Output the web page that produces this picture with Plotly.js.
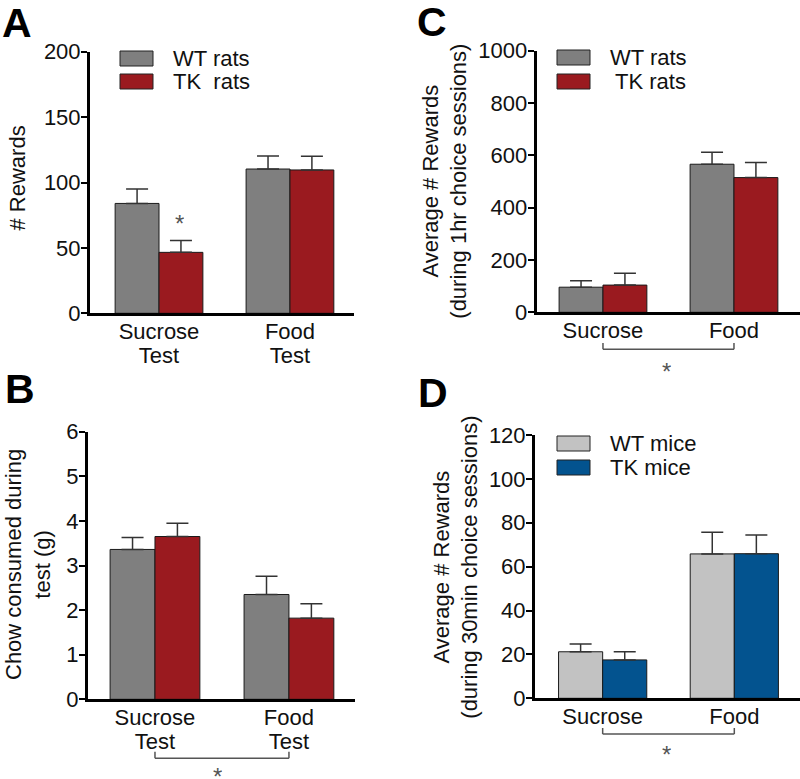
<!DOCTYPE html>
<html><head><meta charset="utf-8">
<script src="https://cdn.plot.ly/plotly-3.0.1.min.js"></script>
<style>html,body{margin:0;padding:0;background:#fff;}#chart{width:800px;height:779px;}</style>
</head><body><div id="chart"></div>
<script>
// ---------- data ----------
const catsTest = ["Sucrose<br>Test", "Food<br>Test"];
const catsShort = ["Sucrose", "Food"];

// Panel A: # Rewards
const aWT = [84, 110.3];
const aWTErr = [11, 10];
const aTK = [46.6, 109.6];
const aTKErr = [9, 10.4];

// Panel B: Chow consumed during test (g)
const bWT = [3.36, 2.35];
const bWTErr = [0.27, 0.41];
const bTK = [3.65, 1.82];
const bTKErr = [0.30, 0.32];

// Panel C: Average # Rewards (1hr)
const cWT = [96, 566];
const cWTErr = [25, 46];
const cTK = [104, 515];
const cTKErr = [45, 58];

// Panel D: Average # Rewards (30min)
const dWT = [21.2, 65.8];
const dWTErr = [3.5, 9.9];
const dTK = [17.5, 65.9];
const dTKErr = [3.7, 8.5];

const ratNames = ["WT rats", "TK\u00a0 rats"];
const ratNamesC = ["WT rats", "TK rats"];
const miceNames = ["WT mice", "TK mice"];
const panelLetters = ["A", "B", "C", "D"];

// ---------- styles ----------
const W = 800, H = 779;
const FONT = "Liberation Sans, Arial, Helvetica, sans-serif";
const GRAY = "#7f7f7f", RED = "#9a1a1f", LGRAY = "#c2c2c2", BLUE = "#03538f";
const px = v => v / W;
const py = v => 1 - v / H;

function bar(x, y, err, color, xa, ya, name) {
  return {
    type: "bar", x: x, y: y, name: name, xaxis: xa, yaxis: ya,
    marker: {color: color, line: {color: "#1a1a1a", width: 1}},
    error_y: {type: "data", array: err, arrayminus: err.map(() => 0), symmetric: false,
              color: "#333", thickness: 1.5, width: 11},
    showlegend: false, hoverinfo: "skip"
  };
}

const data = [
  bar(catsTest, aWT, aWTErr, GRAY, "x", "y", ratNames[0]),
  bar(catsTest, aTK, aTKErr, RED, "x", "y", ratNames[1]),
  bar(catsTest, bWT, bWTErr, GRAY, "x2", "y2", ratNames[0]),
  bar(catsTest, bTK, bTKErr, RED, "x2", "y2", ratNames[1]),
  bar(catsShort, cWT, cWTErr, GRAY, "x3", "y3", ratNamesC[0]),
  bar(catsShort, cTK, cTKErr, RED, "x3", "y3", ratNamesC[1]),
  bar(catsShort, dWT, dWTErr, LGRAY, "x4", "y4", miceNames[0]),
  bar(catsShort, dTK, dTKErr, BLUE, "x4", "y4", miceNames[1])
];

function xax(domain, range, anchor) {
  return {domain: domain, range: range, anchor: anchor, type: "category",
    showline: true, linewidth: 3, linecolor: "#000", ticks: "", showgrid: false,
    zeroline: false, ticklabelstandoff: -4,
    tickfont: {family: FONT, size: 22, color: "#111"}, fixedrange: true};
}
function yax(domain, range, dtick, anchor) {
  return {domain: domain, range: range, dtick: dtick, anchor: anchor,
    showline: true, linewidth: 3, linecolor: "#000", ticks: "outside", ticklen: 6,
    tickwidth: 2, tickcolor: "#000", showgrid: false, zeroline: false,
    ticklabelstandoff: -4,
    tickfont: {family: FONT, size: 22, color: "#111"}, fixedrange: true};
}

const annotations = [];
function ann(text, x, y, opts) {
  annotations.push(Object.assign({text: text, x: px(x), y: py(y), xref: "paper", yref: "paper",
    showarrow: false, xanchor: "center", yanchor: "middle",
    font: {family: FONT, size: 22, color: "#111"}}, opts || {}));
}
// panel letters
const letterPos = [[0, 22.5], [3, 389], [415, 22], [416, 393]];
panelLetters.forEach((L, i) => ann(L, letterPos[i][0], letterPos[i][1],
  {xanchor: "left", font: {family: FONT, size: 41, color: "#000", weight: "bold"}}));
// y titles
ann("# Rewards", 17, 178.5, {textangle: -90});
ann("Chow consumed during<br>test (g)", 28, 565, {textangle: -90});
ann("Average # Rewards<br>(during 1hr choice sessions)", 444.7, 181, {textangle: -90});
ann("Average # Rewards<br>(during 30min choice sessions)", 455.7, 567, {textangle: -90});
// asterisks (box trimmed to the glyph so it stays inside the page)
const starOpts = {font: {family: FONT, size: 24, color: "#555"}, height: 14, valign: "top",
                  borderpad: 0};
ann("*", 179, 217, starOpts);
ann("*", 666.7, 365, starOpts);
ann("*", 217, 770, starOpts);
ann("*", 666.7, 748, starOpts);

// manual legends
const shapes = [];
function legendItem(name, color, bx0, by0, tx) {
  shapes.push({type: "rect", xref: "paper", yref: "paper",
    x0: px(bx0), x1: px(bx0 + 33), y0: py(by0), y1: py(by0 + 15),
    fillcolor: color, line: {color: "#222", width: 1}});
  ann(name, tx, by0 + 7.5, {xanchor: "left"});
}
legendItem(ratNames[0], GRAY, 120, 51, 171);
legendItem(ratNames[1], RED, 120, 74, 171);
legendItem(ratNamesC[0], GRAY, 557, 50, 608);
legendItem(ratNamesC[1], RED, 557, 74, 613);
legendItem(miceNames[0], LGRAY, 557, 436, 608);
legendItem(miceNames[1], BLUE, 557, 460, 608);

// significance brackets
function bracket(xref, yLine, yTop) {
  const st = {color: "#555", width: 1.5};
  shapes.push({type: "line", xref: xref, yref: "paper", x0: 0, x1: 1, y0: py(yLine), y1: py(yLine), line: st});
  shapes.push({type: "line", xref: xref, yref: "paper", x0: 0, x1: 0, y0: py(yLine), y1: py(yTop), line: st});
  shapes.push({type: "line", xref: xref, yref: "paper", x0: 1, x1: 1, y0: py(yLine), y1: py(yTop), line: st});
}
bracket("x2", 758.3, 751.7);
bracket("x3", 349.3, 343);
bracket("x4", 734, 728);

const layout = {
  width: W, height: H, margin: {l: 0, r: 0, t: 0, b: 0},
  paper_bgcolor: "#fff", plot_bgcolor: "rgba(0,0,0,0)",
  barmode: "group", bargap: 0.33, bargroupgap: 0,
  showlegend: false,
  font: {family: FONT, size: 22, color: "#111"},
  xaxis: xax([px(90), px(354)], [-0.527, 1.489], "y"),
  yaxis: yax([py(313.3), py(51.7)], [0, 200], 50, "x"),
  xaxis2: xax([px(88), px(355)], [-0.5, 1.493], "y2"),
  yaxis2: yax([py(699.3), py(431.7)], [0, 6], 1, "x2"),
  xaxis3: xax([px(536.7), 1], [-0.506, 1.504], "y3"),
  yaxis3: yax([py(312.3), py(50.7)], [0, 1000], 200, "x3"),
  xaxis4: xax([px(535), 1], [-0.514, 1.499], "y4"),
  yaxis4: yax([py(698.3), py(435)], [0, 120], 20, "x4"),
  annotations: annotations,
  shapes: shapes
};

Plotly.newPlot("chart", data, layout, {staticPlot: true, displayModeBar: false}).then(gd => {
  // tighter line spacing for the two-line category labels, as in the reference
  gd.querySelectorAll("g.xtick text tspan.line, g.x2tick text tspan.line").forEach(t => {
    if (t.getAttribute("dy") === "1.3em") t.setAttribute("dy", "1.1em");
  });
});
</script></body></html>
